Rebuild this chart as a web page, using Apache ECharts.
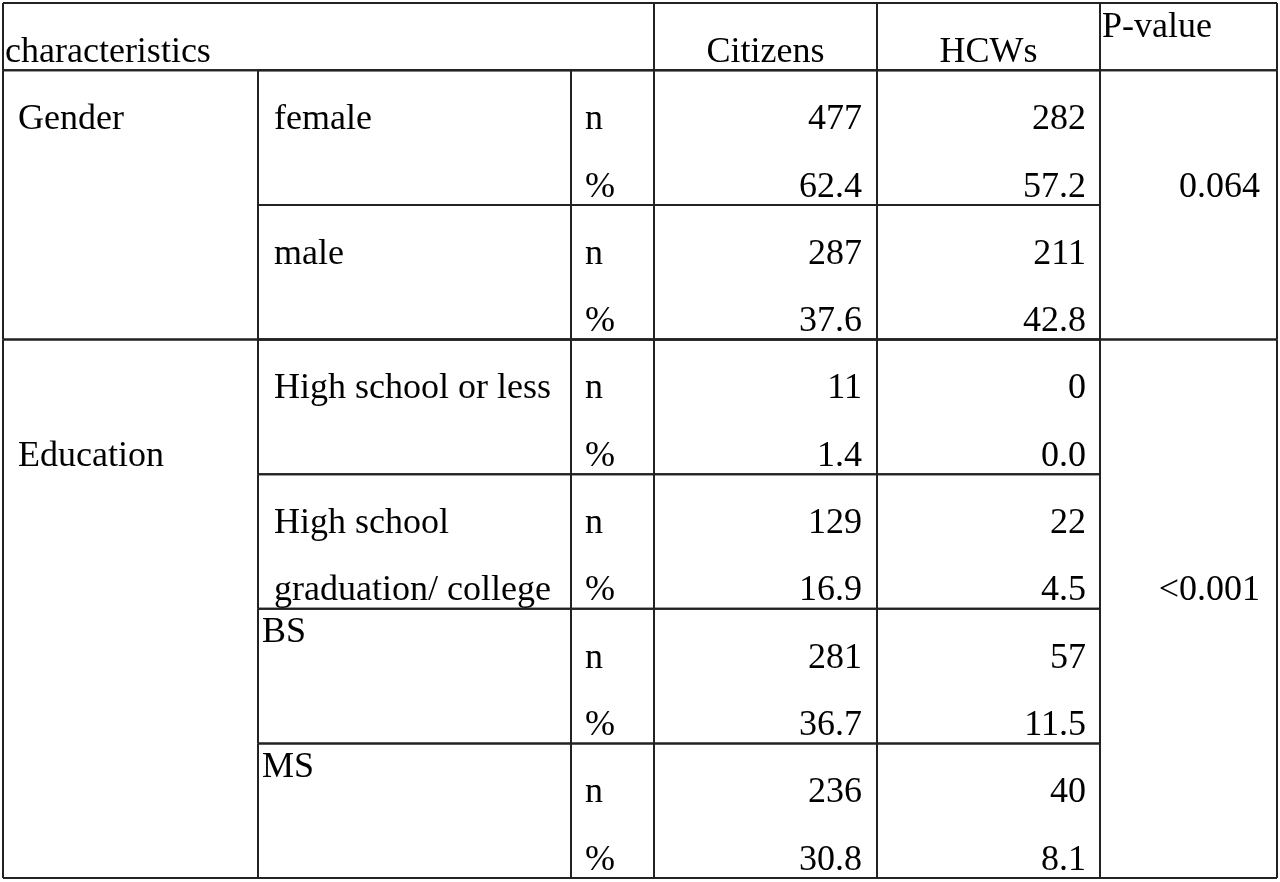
<!DOCTYPE html>
<html>
<head>
<meta charset="utf-8">
<title>characteristics table</title>
<script src="https://cdn.jsdelivr.net/npm/echarts@6/dist/echarts.min.js"></script>
<style>
  html, body { margin: 0; padding: 0; background: #fff; }
  #main { width: 1280px; height: 882px; }
</style>
</head>
<body>
<div id="main"></div>
<script>
// 表格数据
var headers = ['characteristics', 'Citizens', 'HCWs', 'P-value'];
var variables = ['Gender', 'Education'];
var pValues = ['0.064', '<0.001'];
var levels = ['female', 'male', 'High school or less', 'High school\ngraduation/ college', 'BS', 'MS'];
var levelGroup = [0, 0, 1, 1, 1, 1];
var statLabels = ['n', '%'];
var citizensN = [477, 287, 11, 129, 281, 236];
var citizensPct = [62.4, 37.6, 1.4, 16.9, 36.7, 30.8];
var hcwN = [282, 211, 0, 22, 57, 40];
var hcwPct = [57.2, 42.8, 0.0, 4.5, 11.5, 8.1];

// 版式（像素 / 行单位）
var colEdges = [3, 258, 571, 654, 877, 1100, 1277];
var labelAtTop = [false, false, false, false, true, true]; // BS、MS 标签贴顶
var varLabelOffset = [0, 1];   // 变量名相对组首行的偏移
var pValueOffset = [1, 3];     // P 值相对组首行的偏移
var textRow = 0.735;  // 文字在行内的位置
var topRow = 0.36;    // 贴顶文字
var font = '36px "Liberation Serif", "Times New Roman", serif';
var lineColor = '#222';

var chart = echarts.init(document.getElementById('main'));

function txt(api, x, row, s, align) {
    var p = api.coord([x, row]);
    return {
        type: 'text',
        style: {
            x: p[0], y: p[1], text: s, font: font, fill: '#000',
            align: align || 'left', verticalAlign: 'middle'
        }
    };
}
function hline(api, x1, x2, row) {
    var a = api.coord([x1, row]), b = api.coord([x2, row]);
    return { type: 'line', shape: { x1: a[0], y1: a[1], x2: b[0], y2: b[1] },
        style: { stroke: lineColor, lineWidth: 2 } };
}
function vline(api, x, r1, r2) {
    var a = api.coord([x, r1]), b = api.coord([x, r2]);
    return { type: 'line', shape: { x1: a[0], y1: a[1], x2: b[0], y2: b[1] },
        style: { stroke: lineColor, lineWidth: 2 } };
}
function groupRows(g) {
    var first = levelGroup.indexOf(g), last = levelGroup.lastIndexOf(g);
    return [1 + 2 * first, 3 + 2 * last];
}

var option = {
    backgroundColor: '#fff',
    animation: false,
    grid: { left: 0, right: 0, top: 3, bottom: 4 },
    xAxis: { type: 'value', min: 0, max: 1280, show: false },
    yAxis: { type: 'value', min: 0, max: 13, inverse: true, show: false },
    series: [{
        // 表头
        type: 'custom',
        data: [0],
        renderItem: function (params, api) {
            var c = [];
            c.push(txt(api, 5, textRow, headers[0], 'left'));
            c.push(txt(api, (colEdges[3] + colEdges[4]) / 2, textRow, headers[1], 'center'));
            c.push(txt(api, (colEdges[4] + colEdges[5]) / 2, textRow, headers[2], 'center'));
            c.push(txt(api, colEdges[5] + 2, topRow, headers[3], 'left'));
            c.push(hline(api, colEdges[0], colEdges[6], 0));
            c.push(hline(api, colEdges[0], colEdges[6], 1));
            [0, 3, 4, 5, 6].forEach(function (k) {
                c.push(vline(api, colEdges[k], 0, 1));
            });
            return { type: 'group', children: c };
        }
    }, {
        // 变量（Gender / Education）及 P 值
        type: 'custom',
        data: variables.map(function (v, i) { return i; }),
        renderItem: function (params, api) {
            var g = params.dataIndex;
            var r = groupRows(g);
            var c = [];
            c.push(txt(api, 18, r[0] + varLabelOffset[g] + textRow, variables[g], 'left'));
            c.push(txt(api, 1260, r[0] + pValueOffset[g] + textRow, pValues[g], 'right'));
            c.push(hline(api, colEdges[0], colEdges[6], r[0]));
            c.push(hline(api, colEdges[0], colEdges[6], r[1]));
            c.push(vline(api, colEdges[0], r[0], r[1]));
            c.push(vline(api, colEdges[5], r[0], r[1]));
            c.push(vline(api, colEdges[6], r[0], r[1]));
            return { type: 'group', children: c };
        }
    }, {
        // 各水平及 n / %
        type: 'custom',
        data: levels.map(function (v, i) { return i; }),
        renderItem: function (params, api) {
            var i = params.dataIndex;
            var r0 = 1 + 2 * i;
            var c = [];
            var lines = levels[i].split('\n');
            lines.forEach(function (s, k) {
                if (labelAtTop[i]) {
                    c.push(txt(api, 262, r0 + topRow, s, 'left'));
                } else {
                    c.push(txt(api, 274, r0 + k + textRow, s, 'left'));
                }
            });
            statLabels.forEach(function (s, k) {
                c.push(txt(api, 585, r0 + k + textRow, s, 'left'));
            });
            c.push(txt(api, 862, r0 + textRow, String(citizensN[i]), 'right'));
            c.push(txt(api, 862, r0 + 1 + textRow, citizensPct[i].toFixed(1), 'right'));
            c.push(txt(api, 1086, r0 + textRow, String(hcwN[i]), 'right'));
            c.push(txt(api, 1086, r0 + 1 + textRow, hcwPct[i].toFixed(1), 'right'));
            c.push(hline(api, colEdges[1], colEdges[5], r0));
            c.push(hline(api, colEdges[1], colEdges[5], r0 + 2));
            [1, 2, 3, 4, 5].forEach(function (k) {
                c.push(vline(api, colEdges[k], r0, r0 + 2));
            });
            return { type: 'group', children: c };
        }
    }]
};

chart.setOption(option);
window.onresize = chart.resize;
</script>
</body>
</html>
